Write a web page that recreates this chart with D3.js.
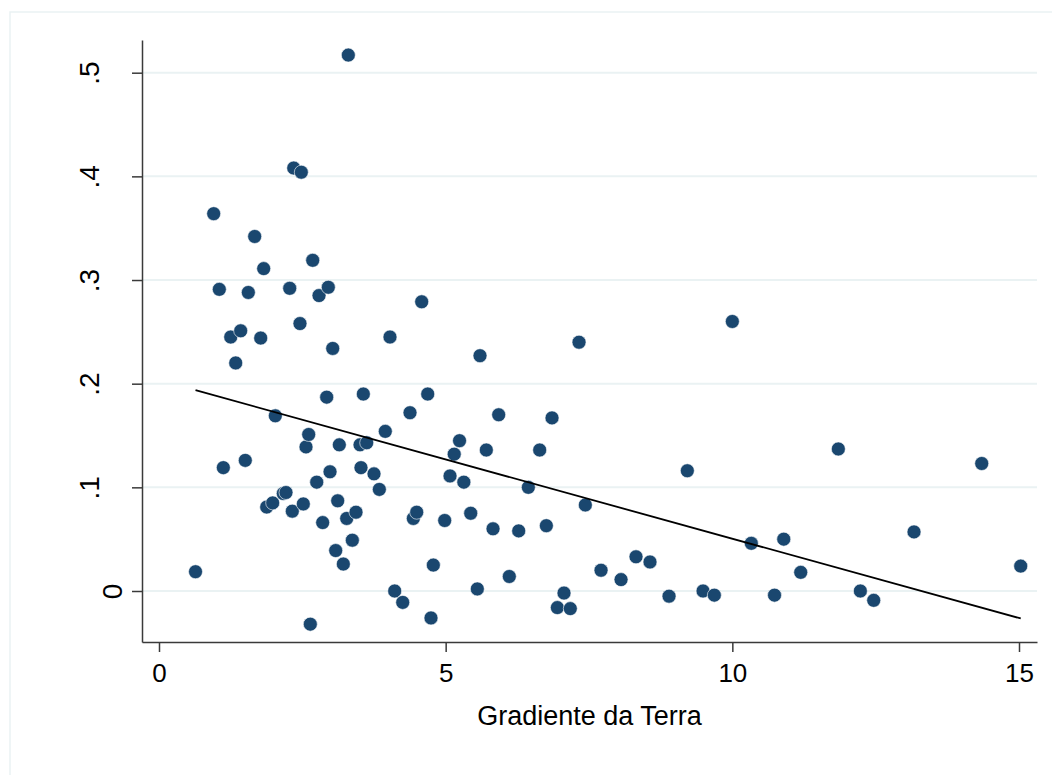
<!DOCTYPE html>
<html>
<head>
<meta charset="utf-8">
<script src="https://cdn.jsdelivr.net/npm/d3@7"></script>
<style>
  body { margin: 0; background: #fff; }
  svg { display: block; font-family: "Liberation Sans", Arial, sans-serif; }
</style>
</head>
<body>
<svg width="1052" height="775"></svg>
<script>
// values
const gradiente = [
  0.637, 0.954, 1.052, 1.122, 1.251, 1.338, 1.425, 1.505, 1.558, 1.669,
  1.774, 1.826, 1.879, 1.983, 2.029, 2.168, 2.215, 2.280, 2.325, 2.350,
  2.482, 2.459, 2.517, 2.564, 2.611, 2.681, 2.639, 2.751, 2.791, 2.855,
  2.925, 2.953, 2.983, 3.030, 3.082, 3.117, 3.145, 3.215, 3.274, 3.302,
  3.372, 3.436, 3.506, 3.523, 3.564, 3.623, 3.750, 3.843, 3.947, 4.029,
  4.111, 4.251, 4.378, 4.436, 4.495, 4.582, 4.687, 4.744, 4.785, 4.983,
  5.076, 5.149, 5.242, 5.317, 5.437, 5.552, 5.599, 5.709, 5.826, 5.925,
  6.110, 6.274, 6.442, 6.640, 6.756, 6.855, 6.948, 7.064, 7.174, 7.326,
  7.436, 7.710, 8.059, 8.320, 8.564, 8.896, 9.215, 9.489, 9.686, 10.000,
  10.331, 10.736, 10.897, 11.193, 11.849, 12.233, 12.466, 13.169, 14.350, 15.030
];
const valores = [
  0.0186, 0.364, 0.291, 0.119, 0.245, 0.220, 0.251, 0.126, 0.288, 0.342,
  0.244, 0.311, 0.081, 0.085, 0.169, 0.094, 0.095, 0.292, 0.077, 0.408,
  0.404, 0.258, 0.084, 0.139, 0.151, 0.319, -0.032, 0.105, 0.285, 0.066,
  0.187, 0.293, 0.115, 0.234, 0.039, 0.087, 0.141, 0.026, 0.070, 0.517,
  0.049, 0.076, 0.141, 0.119, 0.190, 0.143, 0.113, 0.098, 0.154, 0.245,
  0.000, -0.011, 0.172, 0.070, 0.076, 0.279, 0.190, -0.026, 0.025, 0.068,
  0.111, 0.132, 0.145, 0.105, 0.075, 0.002, 0.227, 0.136, 0.060, 0.170,
  0.014, 0.058, 0.100, 0.136, 0.063, 0.167, -0.016, -0.002, -0.017, 0.240,
  0.083, 0.020, 0.011, 0.033, 0.028, -0.005, 0.116, 0.000, -0.004, 0.260,
  0.046, -0.004, 0.050, 0.018, 0.137, 0.000, -0.009, 0.057, 0.123, 0.024
];
// fitted line (ends)
const fitX = [0.637, 15.03];
const fitY = [0.1937, -0.0265];

const xTicks = [0, 5, 10, 15];
const yTicks = [0, 0.1, 0.2, 0.3, 0.4, 0.5];
const yTickLabels = ["0", ".1", ".2", ".3", ".4", ".5"];
const xTitle = "Gradiente da Terra";

const svg = d3.select("svg");

// plot region edges
const plotLeft = 142, plotRight = 1037, plotTop = 40, plotBottom = 642;

const x0 = d3.scaleLinear().domain([0, 15]).range([159, 1019]);
const y0 = d3.scaleLinear().domain([0, 0.5]).range([591, 72.7]);
const x = d3.scaleLinear().domain([x0.invert(plotLeft), x0.invert(plotRight)]).range([plotLeft, plotRight]);
const y = d3.scaleLinear().domain([y0.invert(plotBottom), y0.invert(plotTop)]).range([plotBottom, plotTop]);

// outer graph region outline
svg.append("rect")
  .attr("x", 10).attr("y", 12)
  .attr("width", 1200).attr("height", 1000)
  .attr("fill", "none")
  .attr("stroke", "#eaf2f3")
  .attr("stroke-width", 1.5);

// grid
svg.append("g")
  .selectAll("line")
  .data(yTicks)
  .join("line")
  .attr("x1", plotLeft + 1).attr("x2", plotRight)
  .attr("y1", d => y(d)).attr("y2", d => y(d))
  .attr("stroke", "#eaf2f3")
  .attr("stroke-width", 2);

// axes
const axisColor = "#3a3a3a";

const gx = svg.append("g")
  .attr("transform", `translate(0,${plotBottom})`)
  .call(d3.axisBottom(x).tickValues(xTicks).tickSize(10).tickSizeOuter(0).tickFormat(d3.format("d")));
gx.select(".domain").attr("stroke", axisColor).attr("stroke-width", 1.5);
gx.selectAll(".tick line").attr("stroke", axisColor).attr("stroke-width", 1.5);
gx.selectAll(".tick text")
  .attr("y", 40).attr("dy", 0)
  .attr("font-size", 26)
  .attr("font-family", "'Liberation Sans', Arial, sans-serif")
  .attr("fill", "#000");

const gy = svg.append("g")
  .attr("transform", `translate(${plotLeft},0)`)
  .call(d3.axisLeft(y).tickValues(yTicks).tickSize(10).tickSizeOuter(0)
    .tickFormat((d, i) => yTickLabels[i]));
gy.select(".domain").attr("stroke", axisColor).attr("stroke-width", 1.5);
gy.selectAll(".tick line").attr("stroke", axisColor).attr("stroke-width", 1.5);
// Stata sets the rotated "0" closer to the axis than the dotted labels
gy.selectAll(".tick text")
  .attr("x", 0).attr("dy", 0)
  .attr("transform", d => `translate(${d === 0 ? -20 : -43},0) rotate(-90)`)
  .attr("text-anchor", "middle")
  .attr("font-size", 28)
  .attr("font-family", "'Liberation Sans', Arial, sans-serif")
  .attr("fill", "#000");

// points
const pts = gradiente.map((g, i) => ({ g, v: valores[i] }));
svg.append("g")
  .selectAll("circle")
  .data(pts)
  .join("circle")
  .attr("cx", d => x(d.g))
  .attr("cy", d => y(d.v))
  .attr("r", 7)
  .attr("fill", "#1a476f")
  .attr("stroke", "#ffffff")
  .attr("stroke-width", 0.6);

// fitted values
svg.append("path")
  .datum(fitX.map((fx, i) => [fx, fitY[i]]))
  .attr("d", d3.line().x(d => x(d[0])).y(d => y(d[1])))
  .attr("fill", "none")
  .attr("stroke", "#000")
  .attr("stroke-width", 1.8);

// axis title
svg.append("text")
  .attr("x", (plotLeft + plotRight) / 2)
  .attr("y", 725)
  .attr("text-anchor", "middle")
  .attr("font-size", 27)
  .attr("fill", "#000")
  .text(xTitle);
</script>
</body>
</html>
